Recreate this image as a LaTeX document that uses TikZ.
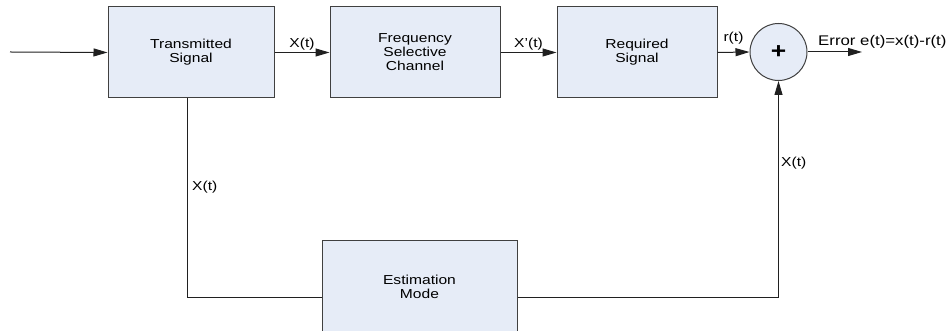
\documentclass[tikz,border=0pt]{standalone}
\usepackage{fontspec}
\setmainfont{Liberation Sans}[FakeStretch=1.2]
\usetikzlibrary{arrows.meta}
\definecolor{boxfill}{HTML}{E6ECF7}
\definecolor{boxedge}{HTML}{404040}
\definecolor{wirecol}{HTML}{202020}
\begin{document}
\begin{tikzpicture}[x=1pt,y=1pt,
  block/.style={draw=boxedge, fill=boxfill, line width=1pt, inner sep=0pt,
    align=center, font=\fontsize{13}{14}\selectfont},
  wire/.style={draw=wirecol, line width=1pt},
  arr/.style={-{Triangle[length=14pt,width=8pt]}},
  lbl/.style={font=\fontsize{13}{14}\selectfont, inner sep=0pt}]

\useasboundingbox (0,0) rectangle (951,331);

% main signal chain
\node[block, minimum width=166, minimum height=91] (T) at (191,278.5) {Transmitted\\Signal};
\node[block, minimum width=170, minimum height=91] (F) at (415,278.5) {Frequency\\Selective\\Channel};
\node[block, minimum width=160, minimum height=91] (R) at (637,278.5) {Required\\Signal};
\node[draw=boxedge, fill=boxfill, line width=1pt, circle, minimum size=57, inner sep=0pt,
      font=\fontsize{22}{22}\bfseries] (S) at (778.5,279) {+};

% estimator in the feedback path
\node[block, minimum width=195, minimum height=92] (E) at (419.5,44) {Estimation\\Mode};

% forward connectors
\coordinate (in) at (10,279);
\coordinate (out) at (862,279);
\draw[wire,arr] (in) -- (T.west);
\draw[wire,arr] (T.east) -- node[lbl, above=2pt] {X(t)} (F.west);
\draw[wire,arr] (F.east) -- node[lbl, above=2pt] {X'(t)} (R.west);
\draw[wire,arr] (R.east) -- node[lbl, above=8pt] {r(t)} (S.west);
\draw[wire,arr] (S.east) -- (out);
\node[lbl, font=\fontsize{14}{15}\selectfont, anchor=base west] (err) at (818,285.3) {Error e(t)=x(t)-r(t)};

% feedback connectors
\coordinate (bl) at (187,33.5);
\coordinate (br) at (S.south |- bl);
\draw[wire] ([xshift=-4pt]T.south) -- (bl) -- (E.west |- bl);
\draw[wire,arr] (E.east |- br) -- (br) -- (S.south);
\node[lbl, anchor=west] (xl) at (192,144) {X(t)};
\node[lbl, anchor=west] (xr) at (781,167.5) {X(t)};
\end{tikzpicture}
\end{document}
